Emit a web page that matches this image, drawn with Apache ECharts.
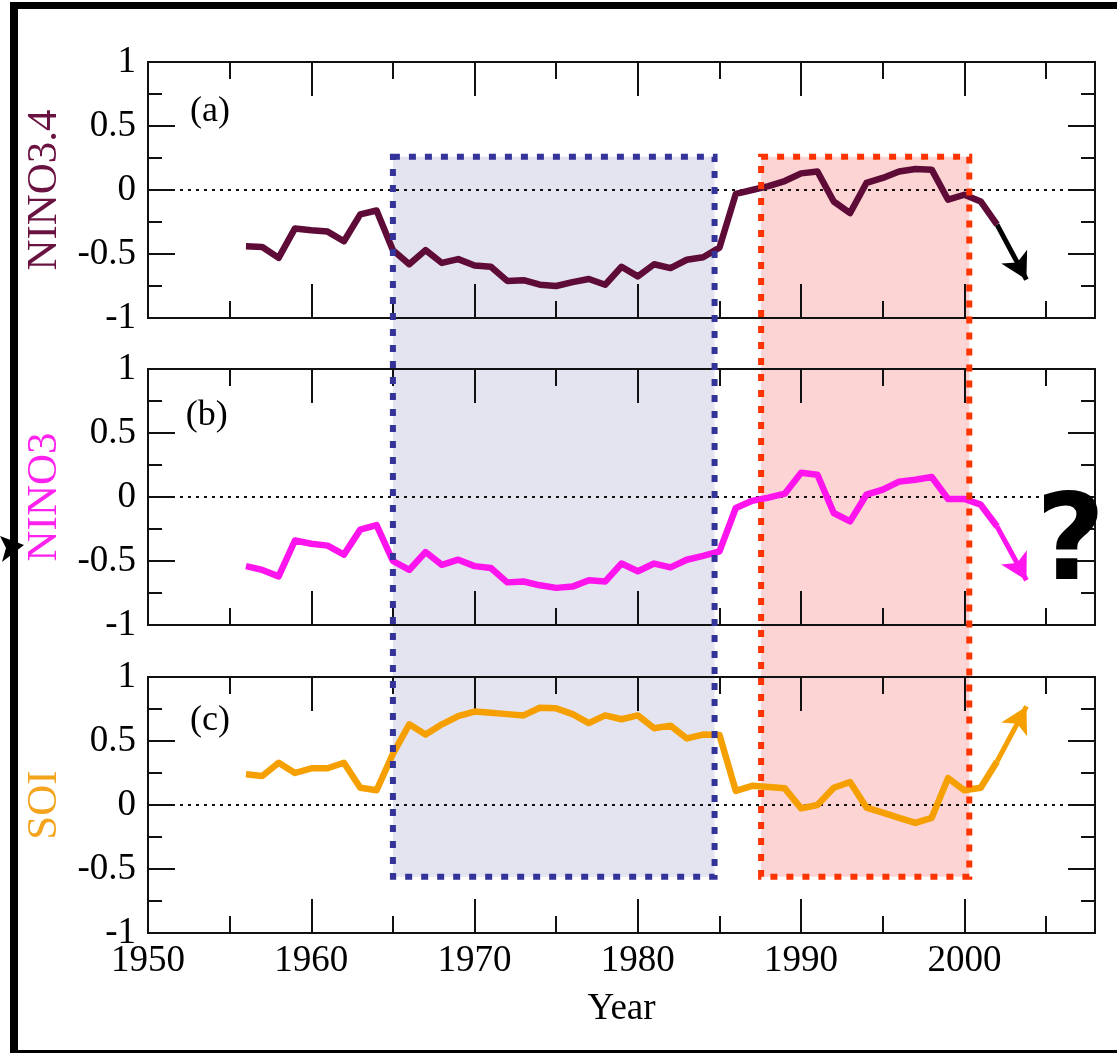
<!DOCTYPE html>
<html><head><meta charset="utf-8">
<script src="https://cdn.jsdelivr.net/npm/echarts@6/dist/echarts.min.js"></script>
<style>html,body{margin:0;padding:0;background:#fff;}#c{width:1117px;height:1053px;}</style>
</head><body><div id="c"></div>
<script>
// ---- data ----
const years = [1956,1957,1958,1959,1960,1961,1962,1963,1964,1965,1966,1967,1968,1969,1970,1971,1972,1973,1974,1975,1976,1977,1978,1979,1980,1981,1982,1983,1984,1985,1986,1987,1988,1989,1990,1991,1992,1993,1994,1995,1996,1997,1998,1999,2000,2001,2002];
const nino34 = [-0.44,-0.445,-0.53,-0.30,-0.315,-0.325,-0.40,-0.19,-0.16,-0.47,-0.58,-0.47,-0.57,-0.54,-0.59,-0.60,-0.71,-0.705,-0.74,-0.75,-0.72,-0.695,-0.74,-0.60,-0.675,-0.58,-0.61,-0.545,-0.525,-0.45,-0.03,0.0,0.03,0.07,0.13,0.145,-0.09,-0.18,0.055,0.094,0.145,0.164,0.159,-0.076,-0.037,-0.089,-0.27];
const nino3 = [-0.54,-0.57,-0.62,-0.34,-0.365,-0.38,-0.45,-0.255,-0.22,-0.50,-0.57,-0.43,-0.53,-0.49,-0.54,-0.555,-0.667,-0.66,-0.69,-0.71,-0.70,-0.65,-0.66,-0.52,-0.58,-0.52,-0.55,-0.49,-0.46,-0.425,-0.086,-0.03,-0.005,0.026,0.19,0.174,-0.125,-0.19,0.018,0.057,0.12,0.135,0.156,-0.016,-0.016,-0.06,-0.23];
const soi = [0.24,0.227,0.33,0.25,0.287,0.287,0.33,0.135,0.115,0.40,0.63,0.55,0.63,0.695,0.73,0.72,0.71,0.70,0.76,0.755,0.71,0.64,0.70,0.67,0.70,0.60,0.62,0.52,0.55,0.547,0.11,0.15,0.14,0.13,-0.026,0.0,0.135,0.18,-0.02,-0.06,-0.10,-0.14,-0.10,0.21,0.115,0.135,0.34];
const panelNames = ['NINO3.4','NINO3','SOI'];
const panelTags = ['(a)','(b)','(c)'];
const tagPos = [[1953.8,0.61],[1953.6,0.64],[1953.8,0.66]];
const arrowFrom = [[2002,-0.27],[2002,-0.23],[2002,0.34]];
const arrowTo = [[2003.8,-0.70],[2003.8,-0.65],[2003.8,0.77]];
const blueBoxYears = [1965, 1984.7];
const redBoxYears = [1987.55, 2000.3];
const boxValues = [0.26, -0.56];   // top (panel a), bottom (panel c)
const questionPos = [2006.5, -0.40];
const xRange = [1950, 2008];
const yRange = [-1, 1];
const zeroLine = [[1950, 0], [2008, 0]];

// ---- styles ----
const lineColors = ['#5e0b38','#ff14ee','#f5a000'];
const nameColors = ['#6a1240','#ff22ee','#f4a31c'];
const arrowColors = ['#000000','#ff14ee','#f5a000'];
const serif = '"Liberation Serif", "Times New Roman", serif';
const gridTops = [62, 369, 677];
const gridH = 256;

const grids = [], xAxes = [], yAxes = [], series = [];
const frame = {show:true, onZero:false, lineStyle:{color:'#111', width:2}};
for (let g = 0; g < 3; g++) {
  grids.push({left:148, right:22, top:gridTops[g], height:gridH, containLabel:false});
  const xs = [['bottom',10,34],['bottom',5,17],['top',10,34],['top',5,17]];
  xs.forEach((d, k) => {
    const ax = {type:'value', gridIndex:g, position:d[0], min:xRange[0], max:xRange[1], interval:d[1],
      axisLine:frame, splitLine:{show:false},
      axisTick:{show:true, inside:true, length:d[2], lineStyle:{color:'#111', width:2}},
      axisLabel:{show:false}};
    if (g === 2 && k === 0) {
      ax.axisLabel = {show:true, showMaxLabel:false, margin:10, color:'#000', fontFamily:serif, fontSize:37,
        formatter: v => String(v)};
      ax.name = 'Year'; ax.nameLocation = 'middle'; ax.nameGap = 58;
      ax.nameTextStyle = {color:'#000', fontFamily:serif, fontSize:37};
    }
    xAxes.push(ax);
  });
  ['left','right'].forEach((pos, k) => {
    const ay = {type:'value', gridIndex:g, position:pos, min:yRange[0], max:yRange[1], interval:0.5,
      axisLine:frame, splitLine:{show:false},
      axisTick:{show:true, inside:true, length:27, lineStyle:{color:'#111', width:2}},
      minorTick:{show:true, splitNumber:2, length:14, lineStyle:{color:'#111', width:2}},
      minorSplitLine:{show:false},
      axisLabel:{show:k===0, margin:12, color:'#000', fontFamily:serif, fontSize:37,
        formatter: v => String(v)}};
    if (k === 0) {
      ay.name = panelNames[g]; ay.nameLocation = 'middle'; ay.nameGap = 68;
      ay.nameTextStyle = {color:nameColors[g], fontFamily:serif, fontSize:43};
    }
    yAxes.push(ay);
  });
}
const vals = [nino34, nino3, soi];
for (let g = 0; g < 3; g++) {
  series.push({type:'line', xAxisIndex:4*g, yAxisIndex:2*g, z:3, silent:true,
    data: zeroLine, showSymbol:false,
    lineStyle:{color:'#111', type:[3,5], width:2}});
  series.push({type:'line', xAxisIndex:4*g, yAxisIndex:2*g, z:5,
    data: years.map((y,i)=>[y, vals[g][i]]),
    showSymbol:false, smooth:false,
    lineStyle:{color:lineColors[g], width:6.5, join:'round'}
  });
  series.push({type:'line', xAxisIndex:4*g, yAxisIndex:2*g, z:6,
    data:[arrowFrom[g]], showSymbol:false, lineStyle:{width:0},
    markLine:{silent:true, symbol:['none','arrow'], symbolSize:[22,26], label:{show:false},
      lineStyle:{color:arrowColors[g], width:5, type:'solid'},
      data:[[{coord:arrowFrom[g]},{coord:arrowTo[g]}]]}
  });
}

const chart = echarts.init(document.getElementById('c'), null, {renderer:'canvas'});
chart.setOption({animation:false, backgroundColor:'#fff', grid:grids, xAxis:xAxes, yAxis:yAxes, series:series});

const px = (g, pt) => chart.convertToPixel({seriesIndex:3*g+1}, pt);
function box(xs, fill, stroke) {
  const a = px(0, [xs[0], boxValues[0]]);
  const b = px(2, [xs[1], boxValues[1]]);
  const shape = {x:a[0], y:a[1], width:b[0]-a[0], height:b[1]-a[1]};
  return [
    {type:'rect', shape:shape, style:{fill:fill}, z:-1, silent:true},
    {type:'rect', shape:shape, style:{fill:null, stroke:stroke, lineWidth:6, lineDash:[7,9]}, z:100, silent:true}
  ];
}
const gr = [];
gr.push(...box(blueBoxYears, '#e4e4f0', '#333399'));
gr.push(...box(redBoxYears, '#fcd4d4', '#ff3300'));
for (let g = 0; g < 3; g++) {
  const p = px(g, tagPos[g]);
  gr.push({type:'text', x:p[0], y:p[1], z:50, silent:true,
    style:{text:panelTags[g], fill:'#000', font:'36px "Liberation Serif"', textAlign:'center', textVerticalAlign:'middle'}});
}
const q = px(1, questionPos);
gr.push({type:'text', x:q[0], y:q[1], z:50, silent:true,
  style:{text:'?', fill:'#000', font:'bold 120px "DejaVu Sans"', textAlign:'center', textVerticalAlign:'middle'}});
// outer frame
gr.push({type:'rect', shape:{x:10, y:2, width:8, height:1051}, style:{fill:'#000'}, z:60, silent:true});
gr.push({type:'rect', shape:{x:10, y:2, width:1107, height:7}, style:{fill:'#000'}, z:60, silent:true});
gr.push({type:'rect', shape:{x:10, y:1050, width:1107, height:3}, style:{fill:'#000'}, z:60, silent:true});
gr.push({type:'polygon', shape:{points:[[0,536],[24,545],[2,562],[6,548]]}, style:{fill:'#000'}, z:60, silent:true});
chart.setOption({graphic:{elements:gr}});
</script></body></html>
